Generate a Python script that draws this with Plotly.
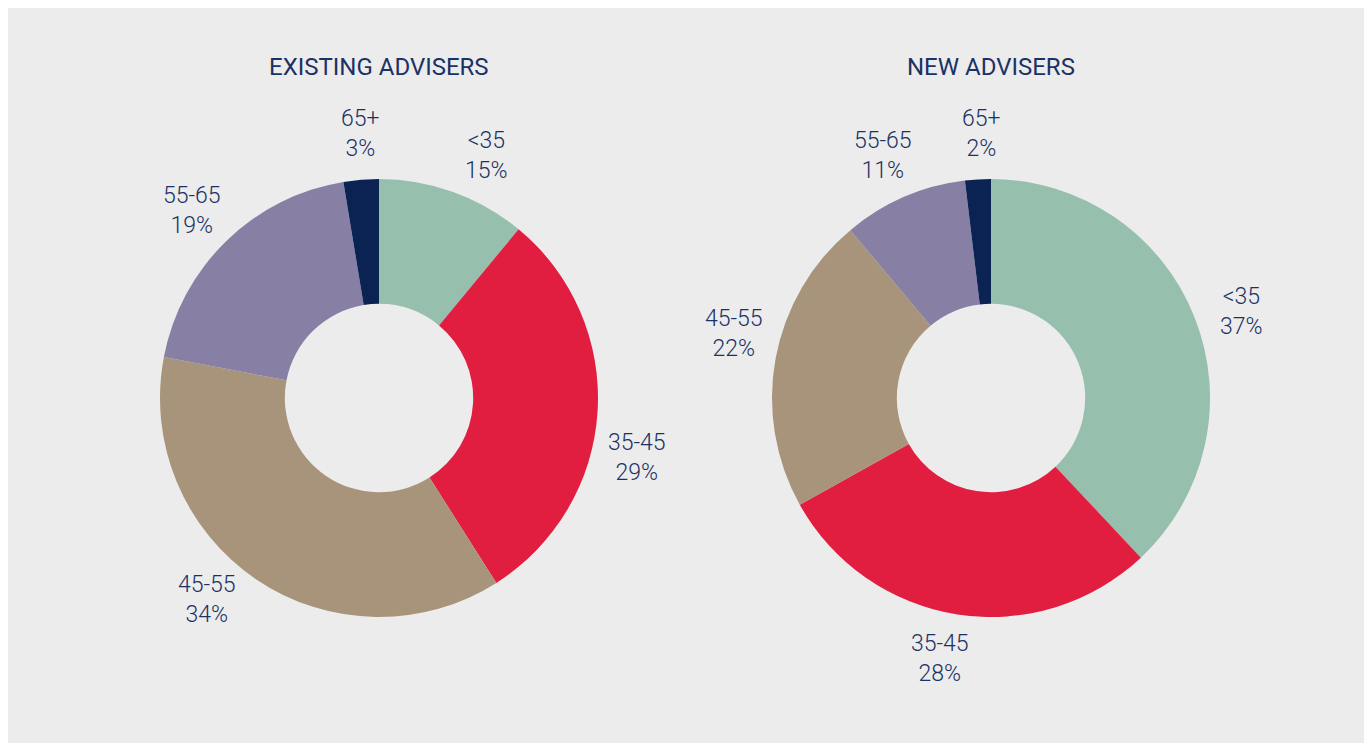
import math
import plotly.graph_objects as go

# ---- data ----
categories = ["<35", "35-45", "45-55", "55-65", "65+"]
existing_values = [11.0, 30.0, 37.0, 19.4, 2.6]      # slice sizes as drawn
existing_labels = ["15%", "29%", "34%", "19%", "3%"]  # printed shares
new_values = [38.0, 28.9, 22.0, 9.2, 1.9]
new_labels = ["37%", "28%", "22%", "11%", "2%"]
titles = ["EXISTING ADVISERS", "NEW ADVISERS"]

# ---- style / layout ----
OFF = 8  # page body margin
W, H = 1372 - OFF, 743 - OFF
colors = ["#96bfad", "#e21e40", "#a8947b", "#8880a4", "#0b2353"]
text_color = "#1b3265"
bg = "#ececec"
R = 219
centers = [(379 - OFF, 398 - OFF), (991 - OFF, 398 - OFF)]
title_y = 67 - OFF
label_angles = [[24, 103, 220.6, 315, 356], [71, 191, 284, 336, 358]]
label_radius = 265

fig = go.Figure()

for (cx, cy), vals in zip(centers, [existing_values, new_values]):
    fig.add_trace(go.Pie(
        labels=categories,
        values=vals,
        sort=False,
        direction="clockwise",
        rotation=0,
        hole=0.43,
        marker=dict(colors=colors, line=dict(width=0)),
        textinfo="none",
        hoverinfo="label+percent",
        showlegend=False,
        domain=dict(x=[(cx - R) / W, (cx + R) / W],
                    y=[1 - (cy + R) / H, 1 - (cy - R) / H]),
    ))

annotations = []
for (cx, cy), title, labs, angs in zip(centers, titles, [existing_labels, new_labels], label_angles):
    annotations.append(dict(
        x=cx / W, y=1 - title_y / H, xref="paper", yref="paper",
        text=title, showarrow=False, xanchor="center", yanchor="middle",
        font=dict(family="Roboto", size=24, color=text_color),
    ))
    for cat, lab, ang in zip(categories, labs, angs):
        t = math.radians(ang)
        px = cx + label_radius * math.sin(t)
        py = cy - label_radius * math.cos(t)
        annotations.append(dict(
            x=px / W, y=1 - py / H, xref="paper", yref="paper",
            text=f"{cat.replace('<', '&lt;')}<br>{lab}", showarrow=False,
            xanchor="center", yanchor="middle", align="center",
            font=dict(family="Roboto", size=23, color=text_color, weight=300),
        ))

fig.update_layout(
    width=W, height=H, autosize=False,
    margin=dict(l=0, r=0, t=0, b=0),
    paper_bgcolor=bg,
    plot_bgcolor=bg,
    annotations=annotations,
)

fig.write_html("out.html")
